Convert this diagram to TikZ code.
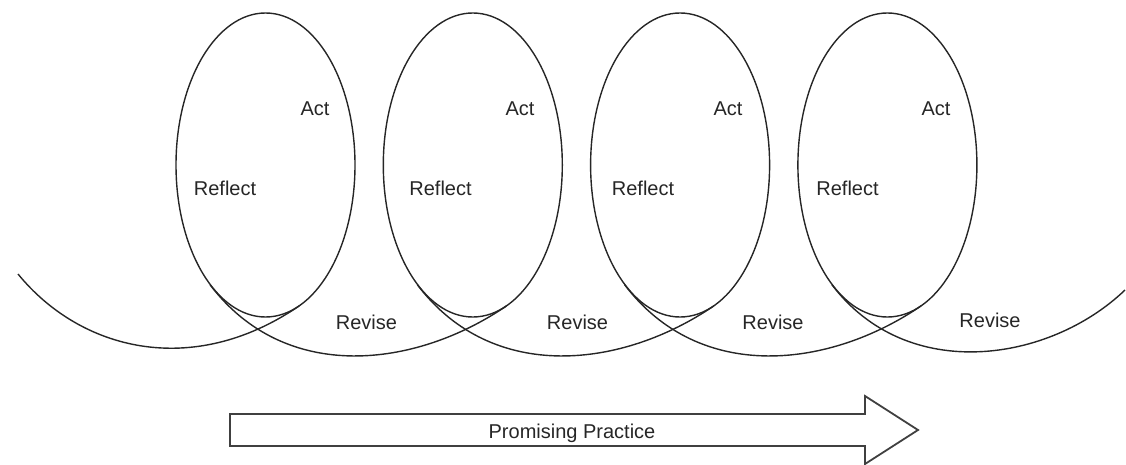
\documentclass[tikz,border=0pt]{standalone}
\usepackage{fontspec}
\setmainfont{Liberation Sans}
\usetikzlibrary{shapes.geometric}
\begin{document}
\begin{tikzpicture}[x=1pt,y=-1pt,
  ell/.style={draw=black!85, line width=1.4pt, ellipse, minimum width=179pt, minimum height=304pt, inner sep=0pt},
  coil/.style={draw=black!85, line width=1.4pt},
  lbl/.style={font=\fontsize{20}{24}\selectfont, anchor=base, inner sep=0pt, text=black!85},
  blockarrow/.style={draw=black!75, line width=1.8pt, line join=miter}]
\useasboundingbox (0,0) rectangle (1126,465);
% loops
\foreach \n/\cx in {1/265.5,2/472.8,3/680.1,4/887.4}
  \node[ell] (e\n) at (\cx,165) {};
% connecting coil arcs
\coordinate (c0) at (18,274);
\coordinate (c5) at (1125,290);
\draw[coil] (c0) .. controls (80,350) and (191.8,379.2) .. (299.2,305.9);
\foreach \cx in {265.5,472.8,680.1}
  \draw[coil] (\cx-55.4,284.8) .. controls (\cx+20.1,384.4) and (\cx+150.1,367.9) .. (\cx+241,305.9);
\draw[coil] (832,284.8) .. controls (907.5,384.4) and (1050,362) .. (c5);
% labels
\node[lbl] (a1) at (315,116) {Act};
\node[lbl] (a2) at (520,116) {Act};
\node[lbl] (a3) at (728,116) {Act};
\node[lbl] (a4) at (936,116) {Act};
\node[lbl] (r1) at (225,195.5) {Reflect};
\node[lbl] (r2) at (440.5,195.5) {Reflect};
\node[lbl] (r3) at (643,195.5) {Reflect};
\node[lbl] (r4) at (847.5,195.5) {Reflect};
\node[lbl] (v1) at (366.5,329) {Revise};
\node[lbl] (v2) at (577.5,329) {Revise};
\node[lbl] (v3) at (773,329) {Revise};
\node[lbl] (v4) at (990,327.5) {Revise};
% block arrow
\draw[blockarrow] (230,414) -- (865,414) -- (865,396) -- (918,430) -- (865,464) -- (865,446) -- (230,446) -- cycle;
\node[lbl] (pp) at (572,438.3) {Promising Practice};
\end{tikzpicture}
\end{document}
